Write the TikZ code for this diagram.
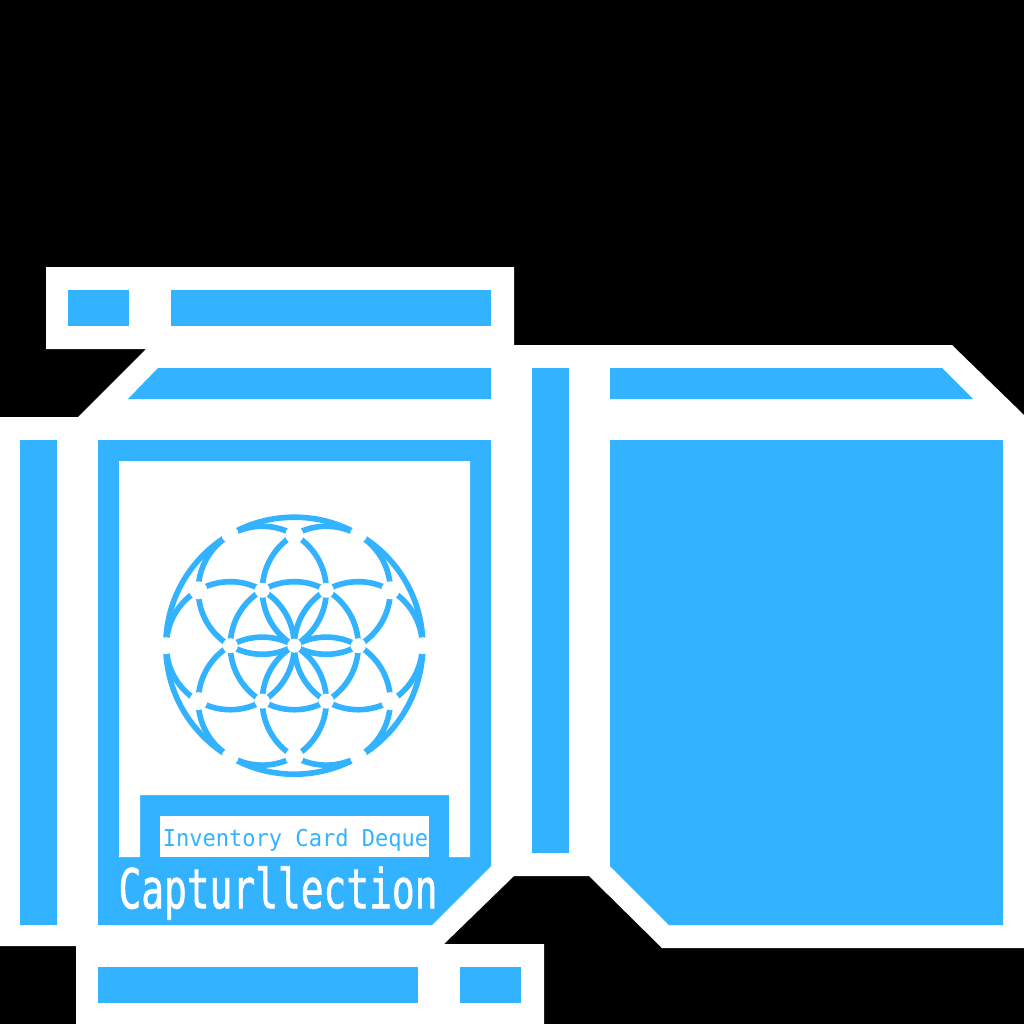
\documentclass[tikz,border=0pt]{standalone}
\usepackage{fontspec}
\setmonofont{DejaVu Sans Mono}
\newfontfamily\titlefont[FakeBold=1.3]{DejaVu Sans Mono}
\usetikzlibrary{calc}
\definecolor{boxblue}{HTML}{33B3FF}
\newcommand{\flwx}{294.3}
\newcommand{\flwy}{645.7}
\newcommand{\flwr}{64}
\newcommand{\flwrr}{128.5}
\newcommand{\flwrs}{110.85}
\tikzset{
  panel/.style={fill=boxblue,draw=none},
  cutout/.style={fill=white,draw=none},
  petal/.style={draw=boxblue,line width=1.6pt,fill=none},
  knot/.style={fill=white,draw=none,circle,inner sep=0pt,minimum size=#1*0.01cm},
  titletext/.style={font=\titlefont\fontsize{15.6}{16}\selectfont,text=white,xscale=0.69,inner sep=0pt},
  subtext/.style={font=\ttfamily\fontsize{6.6}{8}\selectfont,text=boxblue,xscale=0.95,inner sep=0pt}
}
\begin{document}
\begin{tikzpicture}[x=0.01cm,y=-0.01cm]
    \useasboundingbox (0,0) rectangle (1024,1024);
    \fill[black] (0,0) rectangle (1024,1024);

    \fill[white] (46,267) -- (514,267) -- (514,345) -- (952,345)
      -- (1024,415) -- (1024,948) -- (662,948) -- (589,876) -- (514,876)
      -- (444,944) -- (544,944) -- (544,1024) -- (76,1024) -- (76,946)
      -- (0,946) -- (0,417) -- (78,417) -- (146,349) -- (46,349) -- cycle;

    \path[panel] (68,290) rectangle (129,326);
    \path[panel] (171,290) rectangle (491,326);
    \path[panel] (128,399) -- (158,368) -- (491,368) -- (491,399) -- cycle;
    \path[panel] (20,440) rectangle (57,925);
    \path[panel] (98,440) -- (491,440) -- (491,866) -- (432,925)
      -- (98,925) -- cycle;
    \path[panel] (532,368) rectangle (569,853);
    \path[panel] (610,368) -- (942,368) -- (973,399) -- (610,399) -- cycle;
    \path[panel] (610,440) -- (1003,440) -- (1003,925) -- (669,925)
      -- (610,866) -- cycle;
    \path[panel] (98,967) rectangle (418,1003);
    \path[panel] (460,967) rectangle (521,1003);

    \path[cutout] (119,461) -- (470,461) -- (470,857) -- (449,857)
      -- (449,795) -- (140,795) -- (140,857) -- (119,857) -- cycle;
    \path[cutout] (160,816) rectangle (429,857);

    \begin{scope}[shift={(\flwx,\flwy)}]
      \draw[petal] (0,0) circle (\flwrr);
      \draw[petal] (0,0) circle (\flwr);
      \foreach \ang in {0,60,...,300} {
        \draw[petal] (\ang:\flwr) circle (\flwr);
      }
      \node[knot=14] (knotc) at (0,0) {};
      \foreach \ang in {0,60,...,300} {
        \node[knot=15] (knota\ang) at (\ang:\flwr) {};
        \node[knot=18] (knotb\ang) at (\ang+30:\flwrs) {};
        \node[knot=17] (knotd\ang) at (\ang:\flwrr) {};
      }
    \end{scope}

    \node[subtext] (subtitle) at (295.5,840) {Inventory Card Deque};
    \node[titletext] (title) at (278,893) {Capturllection};
\end{tikzpicture}
\end{document}
